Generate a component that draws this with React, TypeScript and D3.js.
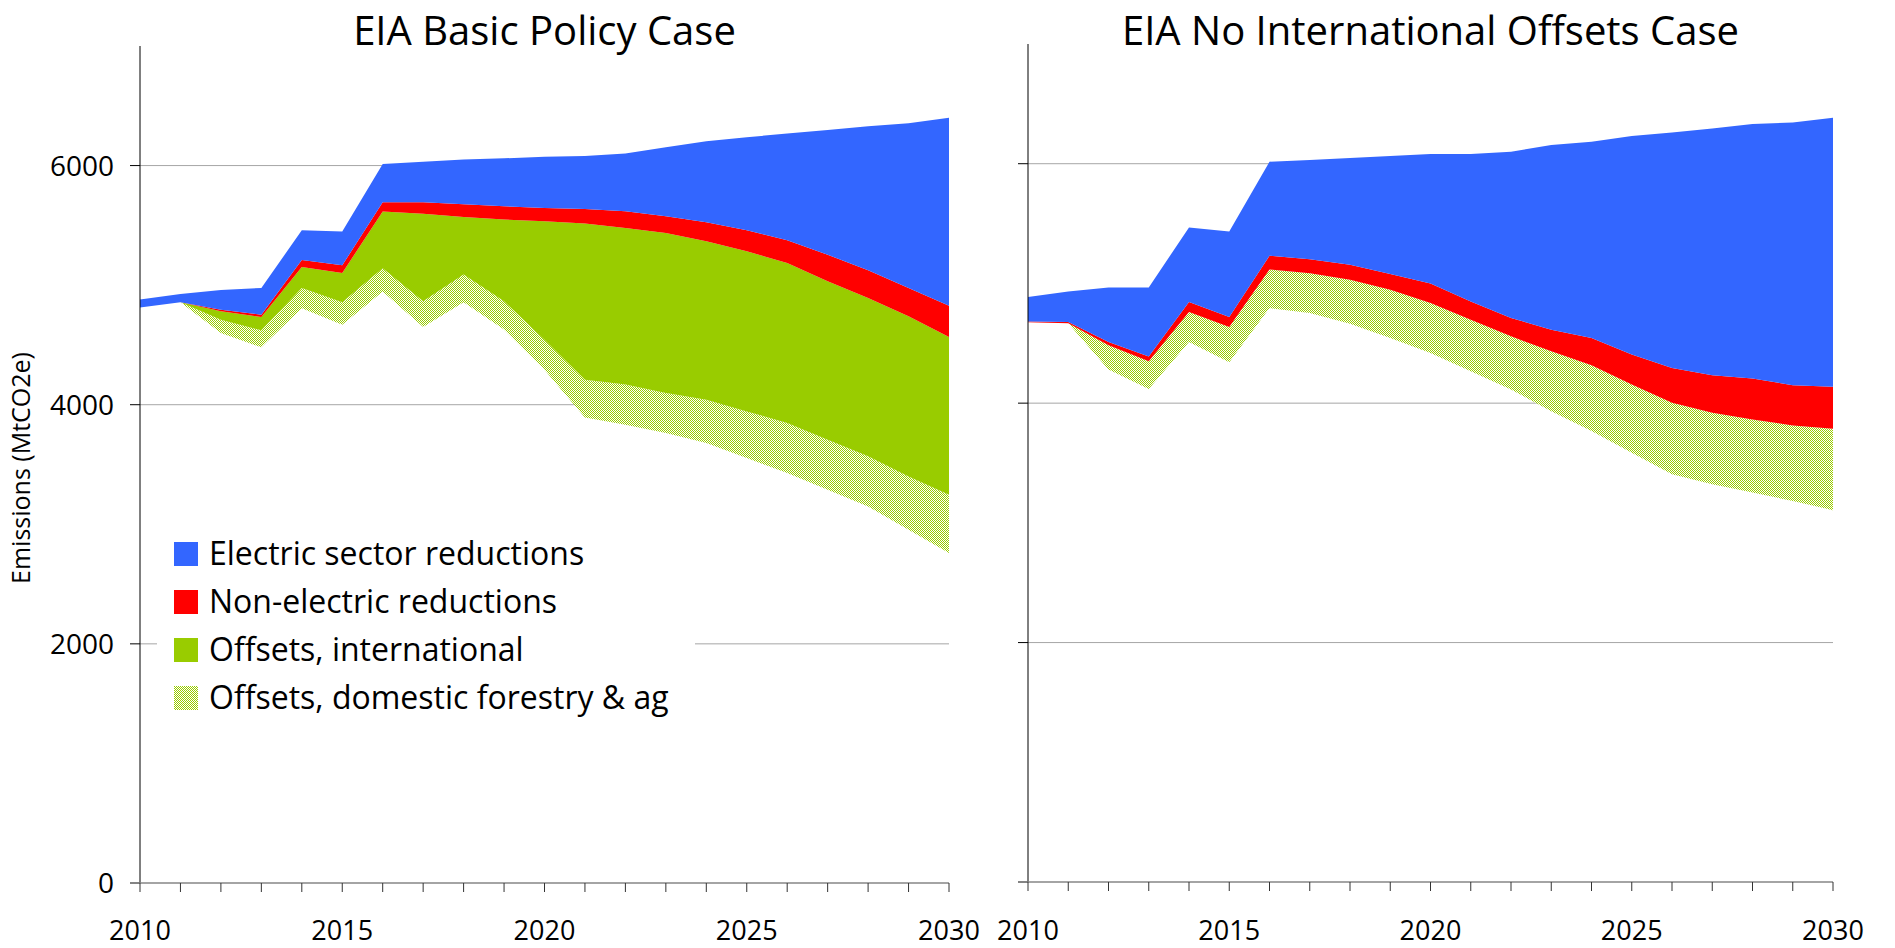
import React, { useEffect, useRef } from "react";
import * as d3 from "d3";

// years on the x axis
const years = [
  2010, 2011, 2012, 2013, 2014, 2015, 2016, 2017, 2018, 2019, 2020,
  2021, 2022, 2023, 2024, 2025, 2026, 2027, 2028, 2029, 2030,
];
const yTicks = [0, 2000, 4000, 6000];
const xLabels = [2010, 2015, 2020, 2025, 2030];

// EIA basic policy case (MtCO2e), bottom series is the remaining emissions
const basicEmissions = [4812, 4856, 4600, 4480, 4806, 4669, 4946, 4650, 4856, 4628, 4293, 3894, 3833, 3763, 3679, 3554, 3428, 3289, 3149, 2954, 2759];
const basicDomestic = [0, 0, 111, 142, 170, 187, 195, 215, 234, 237, 251, 315, 337, 335, 363, 390, 419, 418, 419, 446, 488];
const basicInternational = [0, 0, 70, 112, 176, 246, 474, 733, 480, 683, 990, 1306, 1308, 1339, 1325, 1339, 1339, 1325, 1325, 1339, 1319];
const basicNonElectric = [0, 0, 14, 19, 59, 64, 78, 95, 106, 111, 112, 122, 139, 139, 159, 176, 189, 223, 231, 237, 262];
const basicElectric = [67, 70, 165, 223, 248, 282, 321, 338, 374, 402, 427, 444, 483, 577, 677, 778, 893, 1043, 1205, 1378, 1571];

// EIA no international offsets case
const noIntlEmissions = [4675, 4667, 4280, 4119, 4511, 4342, 4794, 4753, 4664, 4544, 4419, 4267, 4114, 3933, 3767, 3586, 3406, 3322, 3253, 3183, 3106];
const noIntlDomestic = [0, 0, 203, 231, 250, 294, 323, 333, 367, 403, 417, 430, 444, 500, 550, 570, 597, 597, 611, 631, 680];
const noIntlInternational = [0, 0, 0, 0, 0, 0, 0, 0, 0, 0, 0, 0, 0, 0, 0, 0, 0, 0, 0, 0, 0];
const noIntlNonElectric = [8, 11, 28, 39, 83, 83, 114, 117, 125, 131, 164, 153, 153, 181, 227, 250, 291, 314, 342, 336, 350];
const noIntlElectric = [203, 255, 456, 578, 623, 714, 786, 828, 891, 986, 1081, 1231, 1389, 1542, 1639, 1825, 1967, 2061, 2125, 2194, 2247];

const keys = ["emissions", "domestic", "international", "nonElectric", "electric"];
const legendItems = [
  { key: "electric", label: "Electric sector reductions" },
  { key: "nonElectric", label: "Non-electric reductions" },
  { key: "international", label: "Offsets, international" },
  { key: "domestic", label: "Offsets, domestic forestry & ag" },
];

const FONT = "'Open Sans', 'Noto Sans', sans-serif";

function fillFor(key) {
  if (key === "electric") return "#3366ff";
  if (key === "nonElectric") return "#ff0000";
  if (key === "international") return "#99cc00";
  if (key === "domestic") return "url(#hatch)";
  return "none";
}

function buildRows(emissions, domestic, international, nonElectric, electric) {
  return years.map((yr, i) => ({
    year: yr,
    emissions: emissions[i],
    domestic: domestic[i],
    international: international[i],
    nonElectric: nonElectric[i],
    electric: electric[i],
  }));
}

const panels = [
  {
    title: "EIA Basic Policy Case",
    rows: buildRows(basicEmissions, basicDomestic, basicInternational, basicNonElectric, basicElectric),
    left: 140, right: 949, top: 46, bottom: 883,
    tickLabels: true, legend: true,
  },
  {
    title: "EIA No International Offsets Case",
    rows: buildRows(noIntlEmissions, noIntlDomestic, noIntlInternational, noIntlNonElectric, noIntlElectric),
    left: 1028, right: 1833, top: 44, bottom: 882,
    tickLabels: false, legend: false,
  },
];

export default function App() {
  const ref = useRef(null);

  useEffect(() => {
    const svg = d3.select(ref.current);
    svg.selectAll("*").remove();

    // fine dotted fill used for the domestic offsets
    const pat = svg
      .append("defs")
      .append("pattern")
      .attr("id", "hatch")
      .attr("patternUnits", "userSpaceOnUse")
      .attr("width", 2)
      .attr("height", 2);
    pat.append("rect").attr("width", 2).attr("height", 2).attr("fill", "#ffffff");
    pat.append("rect").attr("width", 1).attr("height", 1).attr("fill", "#99cc00");
    pat.append("rect").attr("x", 1).attr("y", 1).attr("width", 1).attr("height", 1).attr("fill", "#99cc00");

    const stack = d3.stack().keys(keys);

    panels.forEach((p) => {
      const x = d3.scaleLinear().domain([2010, 2030]).range([p.left, p.right]);
      const y = d3.scaleLinear().domain([0, 7000]).range([p.bottom, p.top]);
      const g = svg.append("g");

      // gridlines
      g.selectAll(".grid")
        .data(yTicks.filter((t) => t > 0))
        .enter()
        .append("line")
        .attr("x1", p.left)
        .attr("x2", p.right)
        .attr("y1", (d) => y(d))
        .attr("y2", (d) => y(d))
        .attr("stroke", "#a6a6a6")
        .attr("stroke-width", 1);

      // stacked areas
      const area = d3
        .area()
        .x((d) => x(d.data.year))
        .y0((d) => y(d[0]))
        .y1((d) => y(d[1]));

      const series = stack(p.rows);
      g.selectAll(".layer")
        .data(series.filter((s) => s.key !== "emissions"))
        .enter()
        .append("path")
        .attr("d", area)
        .attr("fill", (s) => fillFor(s.key));

      // y axis
      g.append("line")
        .attr("x1", p.left)
        .attr("x2", p.left)
        .attr("y1", y(7000))
        .attr("y2", y(0))
        .attr("stroke", "#000")
        .attr("stroke-width", 1);
      g.selectAll(".ytick")
        .data(yTicks)
        .enter()
        .append("line")
        .attr("x1", p.left - 10)
        .attr("x2", p.left)
        .attr("y1", (d) => y(d))
        .attr("y2", (d) => y(d))
        .attr("stroke", "#000");
      if (p.tickLabels) {
        g.selectAll(".ylab")
          .data(yTicks)
          .enter()
          .append("text")
          .attr("x", p.left - 26)
          .attr("y", (d) => y(d) + 10)
          .attr("text-anchor", "end")
          .style("font-family", FONT)
          .style("font-size", "28px")
          .text((d) => d);
      }

      // x axis
      g.append("line")
        .attr("x1", p.left - 10)
        .attr("x2", p.right)
        .attr("y1", y(0))
        .attr("y2", y(0))
        .attr("stroke", "#868686")
        .attr("stroke-width", 1.5);
      g.selectAll(".xtick")
        .data(years)
        .enter()
        .append("line")
        .attr("x1", (d) => x(d))
        .attr("x2", (d) => x(d))
        .attr("y1", y(0))
        .attr("y2", y(0) + 9)
        .attr("stroke", "#333");
      g.selectAll(".xlab")
        .data(xLabels)
        .enter()
        .append("text")
        .attr("x", (d) => x(d))
        .attr("y", 940)
        .attr("text-anchor", "middle")
        .style("font-family", FONT)
        .style("font-size", "27px")
        .text((d) => d);

      // title
      g.append("text")
        .attr("x", (p.left + p.right) / 2)
        .attr("y", 45)
        .attr("text-anchor", "middle")
        .style("font-family", FONT)
        .style("font-size", "40px")
        .text(p.title);

      if (p.legend) {
        const lg = g.append("g");
        lg.append("rect")
          .attr("x", 157)
          .attr("y", 527)
          .attr("width", 538)
          .attr("height", 196)
          .attr("fill", "#fff");
        const item = lg
          .selectAll(".item")
          .data(legendItems)
          .enter()
          .append("g")
          .attr("transform", (d, i) => "translate(174," + (554 + i * 48) + ")");
        item
          .append("rect")
          .attr("y", -12)
          .attr("width", 24)
          .attr("height", 24)
          .attr("fill", (d) => fillFor(d.key));
        item
          .append("text")
          .attr("x", 35)
          .attr("y", 11)
          .style("font-family", FONT)
          .style("font-size", "32px")
          .text((d) => d.label);
      }
    });

    // shared y axis title
    svg
      .append("text")
      .attr("transform", "translate(30,468) rotate(-90)")
      .attr("text-anchor", "middle")
      .style("font-family", FONT)
      .style("font-size", "25px")
      .text("Emissions (MtCO2e)");
  }, []);

  return (
    <svg
      ref={ref}
      width={1895}
      height={948}
      style={{ position: "absolute", left: 0, top: 0, background: "#fff" }}
    />
  );
}
